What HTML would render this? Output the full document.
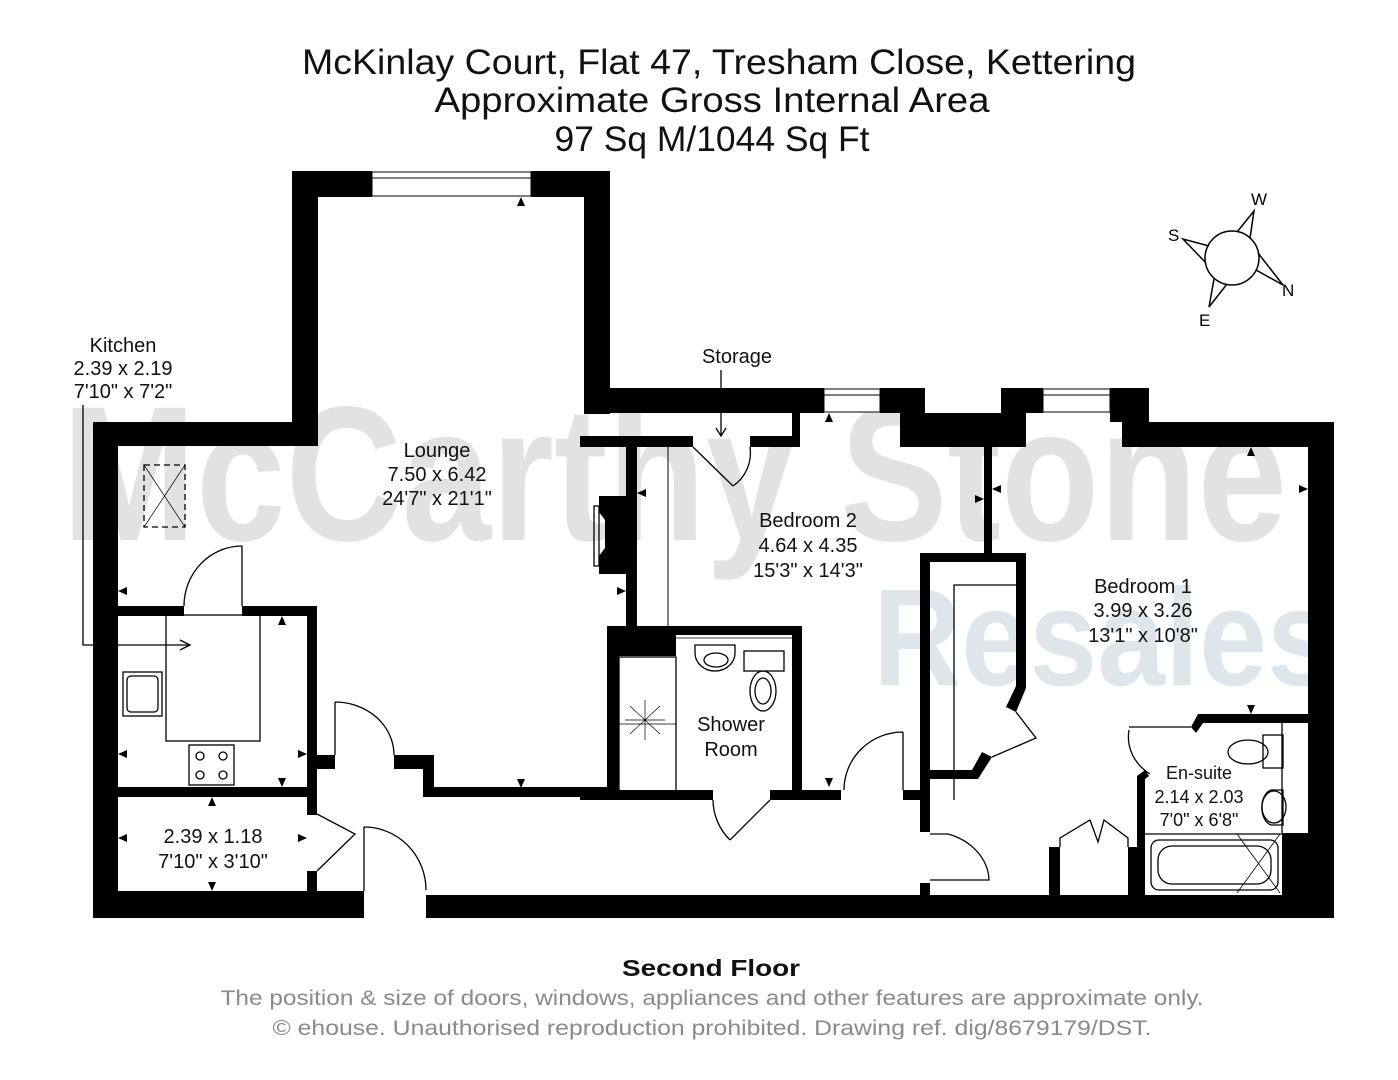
<!DOCTYPE html>
<html><head><meta charset="utf-8"><style>
html,body{margin:0;padding:0;background:#fff;}
svg{display:block;}
text{font-family:"Liberation Sans",sans-serif;}
</style></head><body>
<svg width="1398" height="1080" viewBox="0 0 1398 1080" xmlns="http://www.w3.org/2000/svg">
<rect width="1398" height="1080" fill="#fff"/>
<!-- watermark -->
<text x="62" y="540" font-size="192" font-weight="bold" fill="#e2e2e2" textLength="1225" lengthAdjust="spacingAndGlyphs">McCarthy Stone</text>
<text x="873" y="685" font-size="138" font-weight="bold" fill="#dfe6eb" textLength="462" lengthAdjust="spacingAndGlyphs">Resales</text>

<!-- title -->
<g font-size="35" fill="#111" text-anchor="middle">
<text x="719" y="74" textLength="834" lengthAdjust="spacingAndGlyphs">McKinlay Court, Flat 47, Tresham Close, Kettering</text>
<text x="712" y="112" textLength="555" lengthAdjust="spacingAndGlyphs">Approximate Gross Internal Area</text>
<text x="712" y="151" textLength="315" lengthAdjust="spacingAndGlyphs">97 Sq M/1044 Sq Ft</text>
</g>

<!-- walls -->
<g fill="#000">
<rect x="93" y="422" width="25" height="496"/>
<rect x="93" y="422" width="225" height="24"/>
<rect x="292" y="171" width="26" height="275"/>
<rect x="292" y="171" width="80" height="26"/>
<rect x="531" y="171" width="79" height="26"/>
<rect x="584" y="171" width="26" height="243"/>
<rect x="584" y="388" width="240" height="25"/>
<rect x="880" y="388" width="45" height="25"/>
<rect x="900" y="413" width="126" height="34"/>
<rect x="1001" y="388" width="42" height="25"/>
<rect x="1110" y="388" width="39" height="34"/>
<rect x="1122" y="422" width="212" height="25"/>
<rect x="1308" y="422" width="26" height="496"/>
<!-- storage -->
<rect x="580" y="436" width="113" height="11"/>
<rect x="750" y="436" width="50" height="11"/>
<rect x="792" y="413" width="8" height="34"/>
<!-- lounge/bed2 wall -->
<rect x="626" y="440" width="11" height="186"/>
<path d="M599 496 L626 496 L626 574 L599 574 L599 556 L605 548 L605 520 L599 512 Z"/>
<!-- bed2/bed1 divider -->
<rect x="984" y="447" width="8" height="106"/>
<!-- kitchen walls -->
<rect x="118" y="606" width="66" height="10"/>
<rect x="242" y="606" width="75" height="10"/>
<rect x="307" y="606" width="10" height="209"/>
<rect x="118" y="787" width="189" height="10"/>
<rect x="307" y="871" width="10" height="25"/>
<rect x="317" y="755" width="18" height="14"/>
<rect x="394" y="755" width="40" height="14"/>
<rect x="423" y="755" width="11" height="42"/>
<rect x="423" y="787" width="188" height="10"/>
<!-- shower room -->
<rect x="607" y="626" width="195" height="9"/>
<rect x="607" y="626" width="12" height="174"/>
<rect x="607" y="626" width="69" height="30"/>
<rect x="792" y="626" width="10" height="174"/>
<rect x="580" y="790" width="133" height="10"/>
<rect x="770" y="790" width="71" height="10"/>
<rect x="903" y="790" width="27" height="10"/>
<rect x="920" y="779" width="10" height="53"/>
<rect x="920" y="883" width="10" height="12"/>
<!-- wardrobe bed1 -->
<path d="M920 553 L1026 553 L1026 688 L1016 712 L1006 707 L1016 686 L1016 562 L930 562 L930 770 L972 770 L982 752 L992 757 L978 779 L920 779 Z"/>
<!-- bottom wall -->
<rect x="93" y="891" width="271" height="27"/>
<rect x="426" y="895" width="908" height="23"/>
<!-- bed1 lower -->
<rect x="1049" y="847" width="11" height="48"/>
<rect x="1128" y="847" width="11" height="48"/>
<path d="M1137 776 L1145 770 L1149 776 L1145 779 L1145 895 L1137 895 Z"/>
<path d="M1191 727 L1198 714 L1308 714 L1308 723 L1203 723 L1196 733 Z"/>
<rect x="1282" y="833" width="26" height="62"/>
</g>

<!-- windows -->
<g fill="#fff" stroke="#000" stroke-width="1">
<rect x="372" y="172" width="159" height="24"/>
<rect x="824" y="389" width="56" height="23"/>
<rect x="1043" y="389" width="67" height="23"/>
</g>
<g stroke="#000" stroke-width="1">
<line x1="372" y1="178" x2="531" y2="178"/>
<line x1="824" y1="395" x2="880" y2="395"/>
<line x1="1043" y1="395" x2="1110" y2="395"/>
</g>

<!-- doors & fittings -->
<g fill="none" stroke="#000" stroke-width="1.3">
<line x1="242" y1="546" x2="242" y2="606"/>
<path d="M184 606 A58 60 0 0 1 242 546"/>
<line x1="335" y1="702" x2="335" y2="755"/>
<path d="M335 702 A59 53 0 0 1 394 755"/>
<line x1="364" y1="827" x2="364" y2="891"/>
<path d="M364 827 A62 63 0 0 1 426 890"/>
<path d="M317 814 L355 834 L317 871"/>
<path d="M693 447 L733 486"/>
<path d="M733 486 A40 40 0 0 0 750 447"/>
<path d="M770 800 L730 840"/>
<path d="M730 840 A57 57 0 0 1 713 800"/>
<line x1="903" y1="732" x2="903" y2="790"/>
<path d="M844 790 A59 58 0 0 1 903 732"/>
<path d="M930 834 L948 834 A60 50 0 0 1 989 880 L930 880"/>
<path d="M1016 712 L1036 738 L992 757"/>
<path d="M1060 847 L1060 838 L1090 820 L1098 842 L1104 820 L1128 838 L1128 847"/>
<path d="M1129 730 A50 45 0 0 0 1150 774"/>
<line x1="1129" y1="727" x2="1191" y2="727"/>
<!-- kitchen -->
<rect x="166" y="615" width="94" height="126"/>
<rect x="123" y="672" width="39" height="44"/>
<rect x="127" y="676" width="31" height="36" rx="4"/>
<rect x="189" y="745" width="45" height="40"/>
<circle cx="200" cy="756" r="4"/><circle cx="223" cy="756" r="4"/>
<circle cx="200" cy="775" r="4"/><circle cx="223" cy="775" r="4"/>
<rect x="144" y="465" width="41" height="62" stroke-dasharray="6 4"/>
<line x1="144" y1="465" x2="185" y2="527" stroke-width="0.7"/>
<line x1="185" y1="465" x2="144" y2="527" stroke-width="0.7"/>
<polyline points="83,405 83,645 190,645"/>
<polyline points="180,640 190,645 180,650"/>
<!-- lounge hearth -->
<rect x="594" y="506" width="5" height="60"/>
<line x1="668" y1="447" x2="668" y2="626" stroke-width="1"/>
<!-- storage arrow -->
<line x1="721" y1="370" x2="721" y2="435"/>
<polyline points="716,428 721,436 726,428"/>
<!-- shower -->
<rect x="619" y="657" width="57" height="134"/>
<line x1="619" y1="724" x2="676" y2="724" stroke-width="0.8"/>
<path d="M630 706 L660 734 M660 706 L630 734 M645 700 L645 740 M625 720 L665 720" stroke-width="0.7"/>
<line x1="676" y1="638" x2="792" y2="638" stroke-width="0.8"/>
<path d="M695 645 h40 v8 a20 18 0 0 1 -40 0 z"/>
<ellipse cx="716" cy="660" rx="12" ry="7"/>
<rect x="744" y="651" width="40" height="20"/>
<ellipse cx="763" cy="691" rx="13" ry="20"/>
<ellipse cx="763" cy="691" rx="8" ry="13"/>
<!-- wardrobe inner -->
<path d="M954 800 L954 585 L1016 585"/>
<!-- en-suite -->
<line x1="1282" y1="723" x2="1282" y2="833"/>
<rect x="1263" y="735" width="20" height="33"/>
<ellipse cx="1248" cy="752" rx="20" ry="12"/>
<path d="M1271 790 h12 v35 h-12 a12 18 0 0 1 0 -35 z"/>
<ellipse cx="1274" cy="807" rx="12" ry="16"/>
<line x1="1145" y1="834" x2="1282" y2="834"/>
<rect x="1151" y="840" width="127" height="50" rx="8"/>
<rect x="1158" y="846" width="113" height="38" rx="14"/>
<line x1="1237" y1="834" x2="1280" y2="893" stroke-width="0.8"/>
<line x1="1280" y1="834" x2="1237" y2="893" stroke-width="0.8"/>
</g>

<!-- markers -->
<g fill="#000">
<path d="M521 197 l-4 9 h8z"/><path d="M521 788 l-4 -9 h8z"/>
<path d="M829 413 l-4 9 h8z"/><path d="M829 787 l-4 -9 h8z"/>
<path d="M1251 447 l-4 9 h8z"/><path d="M1251 714 l-4 -9 h8z"/>
<path d="M118 591 l9 -4 v8z"/><path d="M118 754 l9 -4 v8z"/><path d="M118 838 l9 -4 v8z"/>
<path d="M307 754 l-9 -4 v8z"/><path d="M307 838 l-9 -4 v8z"/>
<path d="M626 591 l-9 -4 v8z"/><path d="M637 493 l9 -4 v8z"/>
<path d="M984 499 l-9 -4 v8z"/><path d="M992 489 l9 -4 v8z"/>
<path d="M1308 489 l-9 -4 v8z"/>
<path d="M282 616 l-4 9 h8z"/><path d="M282 787 l-4 -9 h8z"/>
<path d="M212 797 l-4 9 h8z"/><path d="M212 891 l-4 -9 h8z"/>
</g>

<!-- compass -->
<g fill="none" stroke="#000" stroke-width="1.5">
<circle cx="1232" cy="258" r="27"/>
<path d="M1237 232 L1254 211 L1250 238 M1258 253 L1283 285 L1256 270 M1227 284 L1209 307 L1214 279 M1206 263 L1183 239 L1209 246"/>
</g>
<g font-size="17" fill="#000">
<text x="1251" y="205">W</text><text x="1168" y="241">S</text>
<text x="1282" y="296">N</text><text x="1199" y="326">E</text>
</g>

<!-- labels -->
<g font-size="20" fill="#111" text-anchor="middle">
<text x="123" y="352">Kitchen</text><text x="123" y="375">2.39 x 2.19</text><text x="123" y="398">7'10" x 7'2"</text>
<text x="737" y="363">Storage</text>
<text x="437" y="457">Lounge</text><text x="437" y="481">7.50 x 6.42</text><text x="437" y="505">24'7" x 21'1"</text>
<text x="808" y="527">Bedroom 2</text><text x="808" y="552">4.64 x 4.35</text><text x="808" y="577">15'3" x 14'3"</text>
<text x="1143" y="593">Bedroom 1</text><text x="1143" y="617">3.99 x 3.26</text><text x="1143" y="642">13'1" x 10'8"</text>
<text x="731" y="731">Shower</text><text x="731" y="756">Room</text>
<text x="213" y="843">2.39 x 1.18</text><text x="213" y="868">7'10" x 3'10"</text>
<text x="1199" y="779" font-size="18">En-suite</text><text x="1199" y="803" font-size="18">2.14 x 2.03</text><text x="1199" y="826" font-size="18">7'0" x 6'8"</text>
</g>

<!-- footer -->
<text x="711" y="976" font-size="23" font-weight="bold" fill="#111" text-anchor="middle" textLength="178" lengthAdjust="spacingAndGlyphs">Second Floor</text>
<text x="712" y="1005" font-size="21" fill="#8a8a8a" text-anchor="middle" textLength="983" lengthAdjust="spacingAndGlyphs">The position &amp; size of doors, windows, appliances and other features are approximate only.</text>
<text x="712" y="1035" font-size="21" fill="#8a8a8a" text-anchor="middle" textLength="879" lengthAdjust="spacingAndGlyphs">© ehouse. Unauthorised reproduction prohibited. Drawing ref. dig/8679179/DST.</text>
</svg>
</body></html>
